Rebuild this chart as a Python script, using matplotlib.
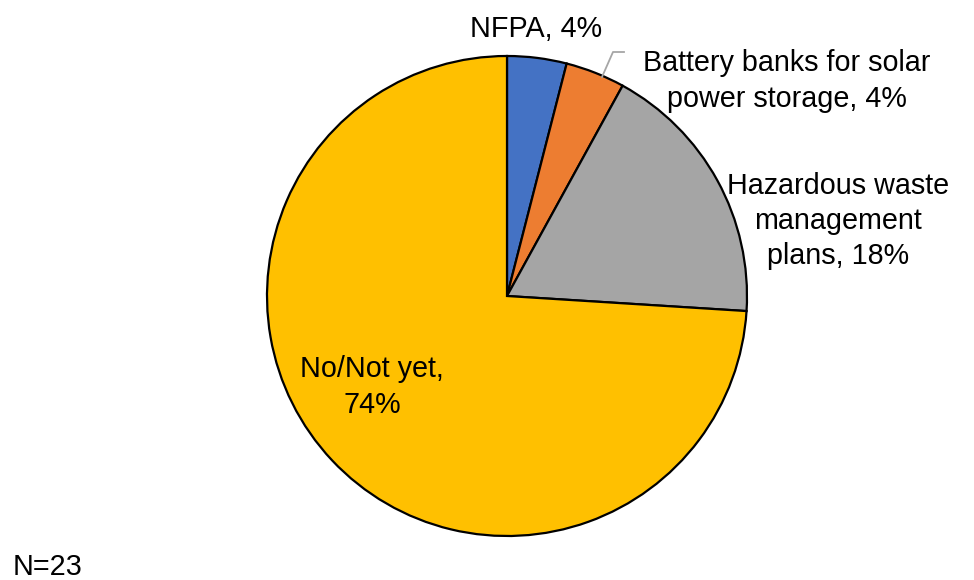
import matplotlib
matplotlib.use("Agg")
import matplotlib.pyplot as plt

plt.rcParams['font.family'] = ['Liberation Sans', 'DejaVu Sans']

categories = ["NFPA", "Battery banks for solar\npower storage",
              "Hazardous waste\nmanagement\nplans", "No/Not yet"]
percents = [4, 4, 18, 74]
colors = ["#4472C4", "#ED7D31", "#A5A5A5", "#FFC000"]
n_responses = 23

W, H = 974, 580
fig = plt.figure(figsize=(W / 100, H / 100), dpi=100)
ax = fig.add_axes([0, 0, 1, 1])

cx, cy, r = 507, H - 296, 240
ax.pie(percents, colors=colors, startangle=90, counterclock=False,
       center=(cx, cy), radius=r, frame=True,
       wedgeprops=dict(edgecolor='black', linewidth=1.6))
ax.set_xlim(0, W)
ax.set_ylim(0, H)
ax.set_aspect('equal')
ax.axis('off')

labels = [f"{c}, {p}%" for c, p in zip(categories, percents)]
labels[3] = f"{categories[3]},\n{percents[3]}%"

label_pos = [(536, H - 29), (787, H - 81), (838, H - 221), (372, H - 387)]
for text, (x, y) in zip(labels, label_pos):
    ax.text(x, y, text, ha='center', va='center', fontsize=20.7,
            linespacing=1.34, color='black')

# leader line for the small orange slice
ax.plot([602, 613, 624], [H - 77, H - 52, H - 52], color='#A6A6A6', lw=1.3)

ax.text(13, H - 567, f"N={n_responses}", ha='left', va='center', fontsize=20.7)

fig.savefig("out.png", dpi=100, facecolor='white')
